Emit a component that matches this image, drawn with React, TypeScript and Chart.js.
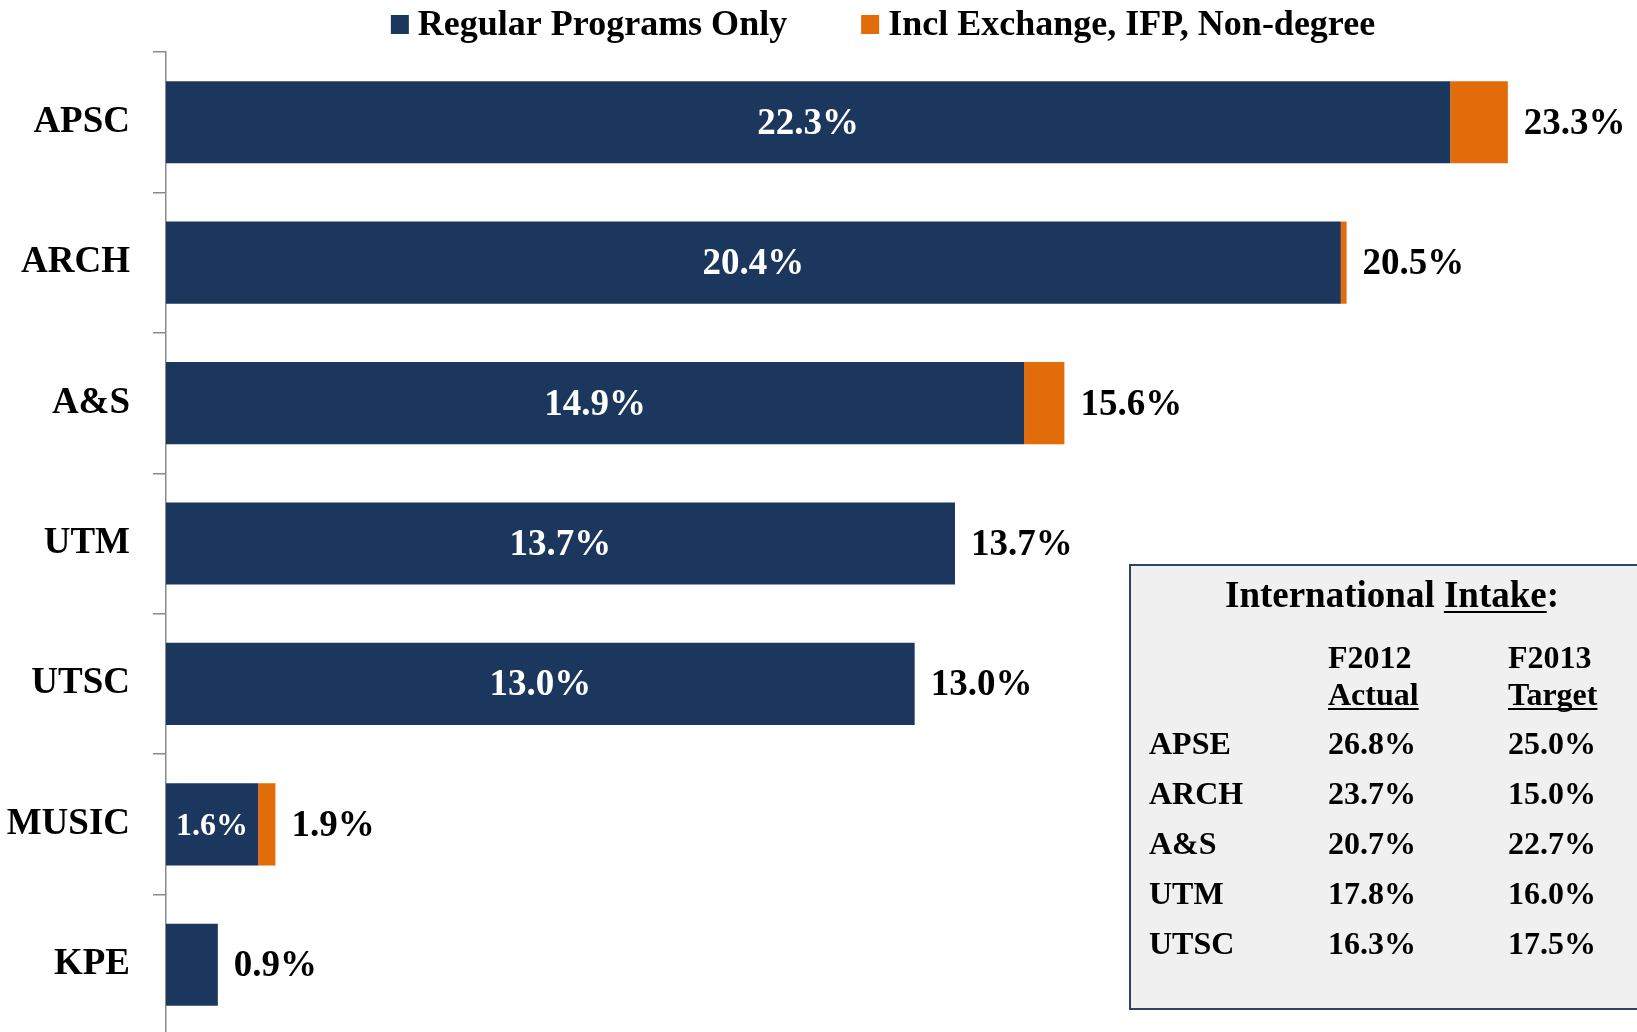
import { useEffect, useRef } from 'react';
import { Chart, registerables } from 'chart.js';

Chart.register(...registerables);

const categories = ['APSC', 'ARCH', 'A&S', 'UTM', 'UTSC', 'MUSIC', 'KPE'];
const regularValues = [22.3, 20.4, 14.9, 13.7, 13.0, 1.6, 0.9];
const extraValues = [1.0, 0.1, 0.7, 0, 0, 0.3, 0];
const seriesLabels = ['Regular Programs Only', 'Incl Exchange, IFP, Non-degree'];
const seriesColors = ['#1b375e', '#e36c0a'];

const tableTitleMain = 'International ';
const tableTitleUnderlined = 'Intake';
const tableHeaderTop = ['F2012', 'F2013'];
const tableHeaderBottom = ['Actual', 'Target'];
const tableSchools = ['APSE', 'ARCH', 'A&S', 'UTM', 'UTSC'];
const tableActual = ['26.8%', '23.7%', '20.7%', '17.8%', '16.3%'];
const tableTarget = ['25.0%', '15.0%', '22.7%', '16.0%', '17.5%'];

const FONT = '"Liberation Serif", "Times New Roman", serif';

export default function App() {
  const ref = useRef<HTMLCanvasElement>(null);

  useEffect(() => {
    const canvas = ref.current!;

    const barLabels = {
      id: 'barLabels',
      afterDatasetsDraw(chart: any) {
        const ctx = chart.ctx;
        const m0 = chart.getDatasetMeta(0);
        const m1 = chart.getDatasetMeta(1);
        ctx.save();
        ctx.textBaseline = 'middle';
        categories.forEach((_, i) => {
          const b0 = m0.data[i] as any;
          const b1 = m1.data[i] as any;
          const reg = regularValues[i];
          const tot = regularValues[i] + extraValues[i];
          const barW = Math.abs(b0.x - b0.base);
          const inner = reg.toFixed(1) + '%';
          ctx.textAlign = 'center';
          ctx.fillStyle = '#ffffff';
          ctx.font = `bold 37px ${FONT}`;
          let w = ctx.measureText(inner).width;
          let draw = true;
          if (w + 12 > barW) {
            ctx.font = `600 32px ${FONT}`;
            w = ctx.measureText(inner).width;
            if (w + 12 > barW) draw = false;
          }
          if (draw) ctx.fillText(inner, (b0.x + b0.base) / 2, b0.y + 2);
          const end = Math.max(b0.x, b1.x);
          ctx.textAlign = 'left';
          ctx.fillStyle = '#000000';
          ctx.font = `bold 37px ${FONT}`;
          ctx.fillText(tot.toFixed(1) + '%', end + 16, b0.y + 2);
        });
        ctx.restore();
      },
    };

    const customLegend = {
      id: 'customLegend',
      afterDraw(chart: any) {
        const ctx = chart.ctx;
        const area = chart.chartArea;
        ctx.save();
        ctx.font = `bold 36px ${FONT}`;
        const box = 18;
        const gapText = 9;
        const gapItems = 74;
        const widths = seriesLabels.map((t) => ctx.measureText(t).width);
        const total =
          widths.reduce((a, b) => a + b, 0) +
          seriesLabels.length * (box + gapText) +
          gapItems * (seriesLabels.length - 1);
        let x = (area.left + area.right) / 2 - total / 2;
        const baseline = 35;
        seriesLabels.forEach((t, i) => {
          ctx.fillStyle = chart.data.datasets[i].backgroundColor;
          ctx.fillRect(x, 15, box, 19);
          x += box + gapText;
          ctx.fillStyle = '#000';
          ctx.textAlign = 'left';
          ctx.textBaseline = 'alphabetic';
          ctx.fillText(t, x, baseline);
          x += widths[i] + gapItems;
        });
        ctx.restore();
      },
    };

    const intakeTable = {
      id: 'intakeTable',
      afterDraw(chart: any) {
        const ctx = chart.ctx;
        ctx.save();
        ctx.fillStyle = '#f0f0f0';
        ctx.fillRect(1130, 565, 520, 444);
        ctx.strokeStyle = '#2e4466';
        ctx.lineWidth = 2;
        ctx.strokeRect(1130, 565, 520, 444);

        ctx.fillStyle = '#000';
        ctx.textBaseline = 'alphabetic';
        ctx.textAlign = 'left';
        ctx.font = `bold 37px ${FONT}`;
        const wMain = ctx.measureText(tableTitleMain).width;
        const wUnd = ctx.measureText(tableTitleUnderlined).width;
        const wCol = ctx.measureText(':').width;
        const tx = 1392 - (wMain + wUnd + wCol) / 2;
        ctx.fillText(tableTitleMain, tx, 607);
        ctx.fillText(tableTitleUnderlined, tx + wMain, 607);
        ctx.fillRect(tx + wMain, 611, wUnd, 2);
        ctx.fillText(':', tx + wMain + wUnd, 607);

        ctx.font = `bold 32px ${FONT}`;
        const cols = [1328, 1508];
        cols.forEach((cx, c) => {
          ctx.fillText(tableHeaderTop[c], cx, 668);
          ctx.fillText(tableHeaderBottom[c], cx, 705);
          const hw = ctx.measureText(tableHeaderBottom[c]).width;
          ctx.fillRect(cx, 708, hw, 2);
        });
        tableSchools.forEach((s, r) => {
          const y = 754 + r * 50;
          ctx.fillText(s, 1149, y);
          ctx.fillText(tableActual[r], cols[0], y);
          ctx.fillText(tableTarget[r], cols[1], y);
        });
        ctx.restore();
      },
    };

    const chart = new Chart(canvas, {
      type: 'bar',
      data: {
        labels: categories,
        datasets: [
          {
            label: seriesLabels[0],
            data: regularValues,
            backgroundColor: seriesColors[0],
            barPercentage: 0.585,
            categoryPercentage: 1,
          },
          {
            label: seriesLabels[1],
            data: extraValues,
            backgroundColor: seriesColors[1],
            barPercentage: 0.585,
            categoryPercentage: 1,
          },
        ],
      },
      options: {
        indexAxis: 'y',
        animation: false,
        responsive: true,
        maintainAspectRatio: false,
        devicePixelRatio: 1,
        layout: { padding: { top: 52, bottom: 5, left: 0, right: 37 } },
        plugins: {
          legend: { display: false },
          tooltip: { enabled: false },
        },
        scales: {
          x: { stacked: true, display: false, min: 0, max: 24.9 },
          y: {
            stacked: true,
            offset: true,
            grid: {
              offset: true,
              drawOnChartArea: false,
              drawTicks: true,
              tickLength: 13,
              color: '#8a8a8a',
              lineWidth: 1.5,
            },
            border: { display: true, color: '#8a8a8a', width: 1.5 },
            ticks: {
              padding: 23,
              color: '#000',
              font: { family: FONT, size: 37, weight: 'bold' },
            },
            afterFit: (s: any) => {
              s.width = 166;
              s.paddingTop = 0;
              s.paddingBottom = 0;
            },
          },
        },
      } as any,
      plugins: [barLabels, customLegend, intakeTable],
    });
    return () => chart.destroy();
  }, []);

  return (
    <div
      style={{
        position: 'absolute',
        left: 0,
        top: 0,
        width: 1637,
        height: 1032,
        overflow: 'hidden',
        background: '#fff',
      }}
    >
      <div style={{ position: 'relative', width: 1637, height: 1040 }}>
        <canvas ref={ref} />
      </div>
    </div>
  );
}
